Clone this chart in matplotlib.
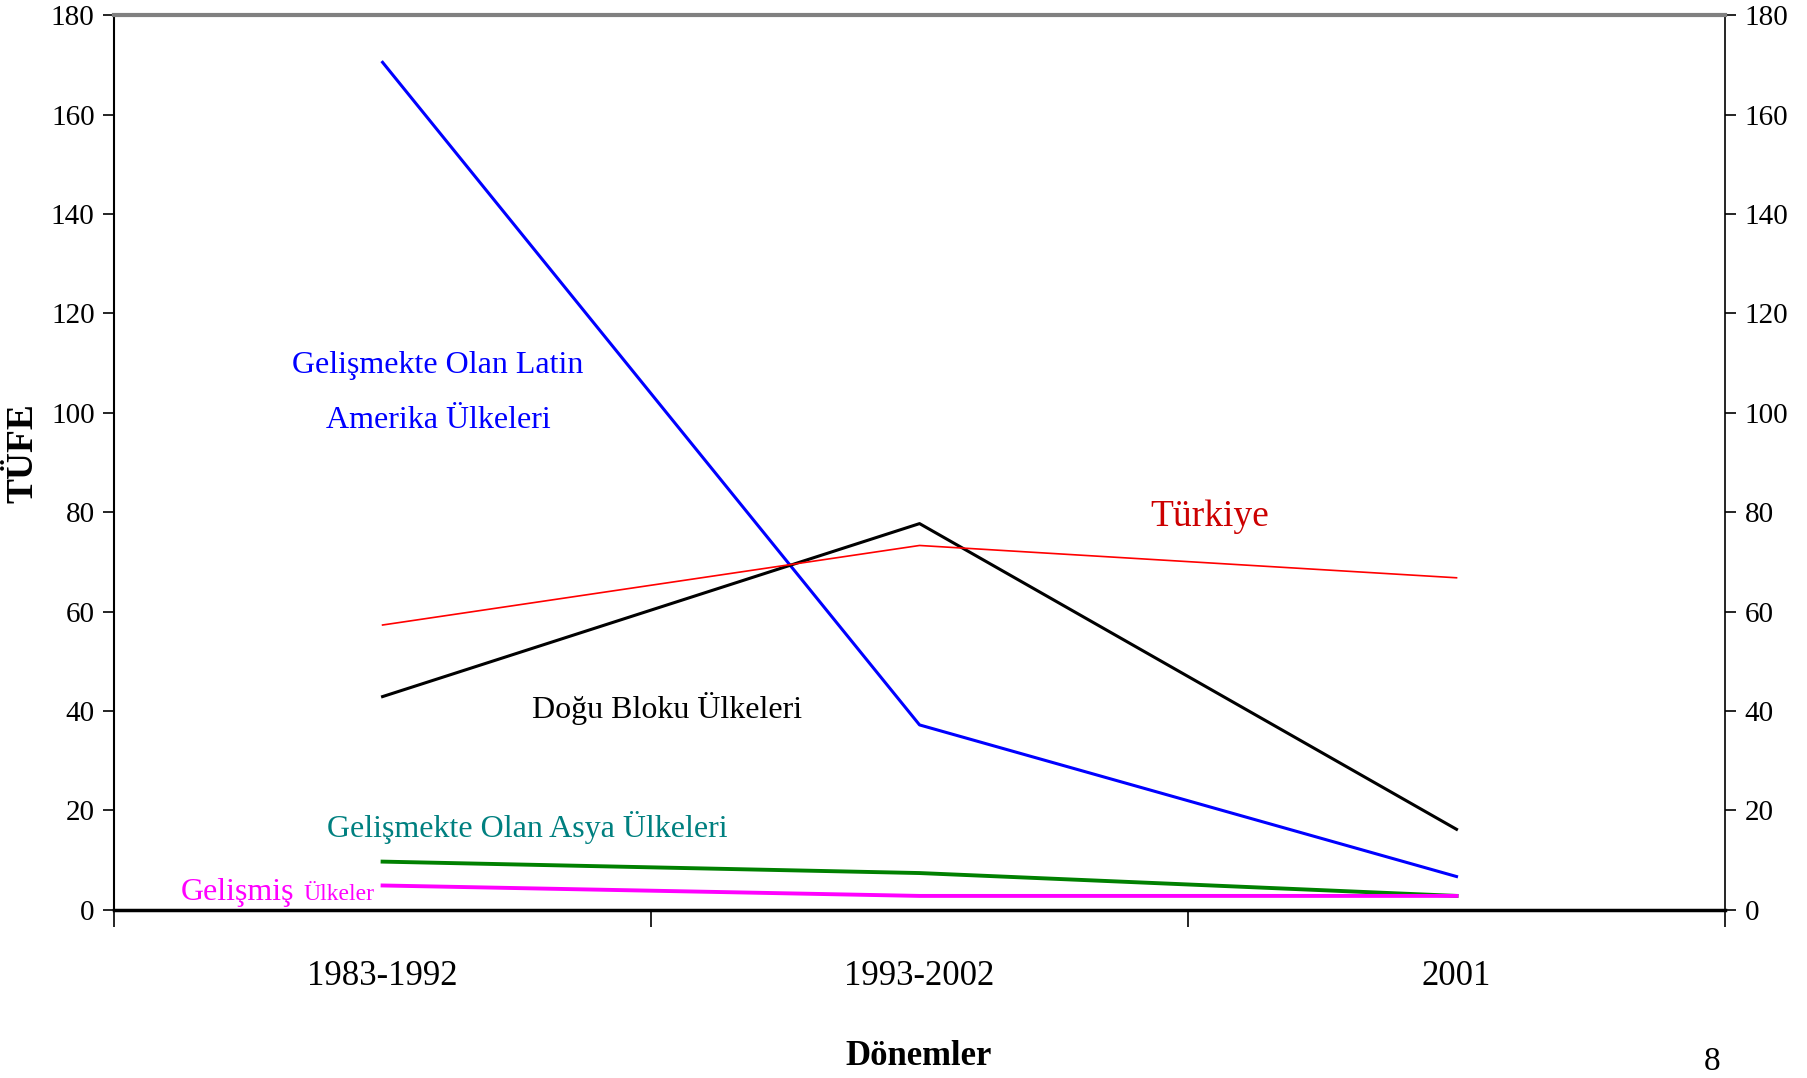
import matplotlib.pyplot as plt

donemler = ['1983-1992', '1993-2002', '2001']
latin_amerika = [170.5, 37.2, 6.7]
dogu_bloku = [42.9, 77.7, 16.2]
turkiye = [57.3, 73.3, 66.8]
asya = [9.7, 7.4, 2.8]
gelismis = [4.9, 2.8, 2.8]

plt.rcParams['font.family'] = ['Liberation Serif', 'DejaVu Serif']

fig = plt.figure(figsize=(18.08, 10.78), dpi=100)
ax = fig.add_axes([0.0631, 0.156, 0.8910, 0.830])

x = range(len(donemler))
ax.plot(x, latin_amerika, color='#0000FF', lw=2.2)
ax.plot(x, dogu_bloku, color='black', lw=2.2)
ax.plot(x, turkiye, color='#FF0000', lw=1.2)
ax.plot(x, asya, color='#008000', lw=2.8)
ax.plot(x, gelismis, color='#FF00FF', lw=2.8)

ax.set_xlim(-0.5, 2.5)
ax.set_ylim(0, 180)
ax.set_yticks(range(0, 181, 20))
ax.tick_params(axis='y', which='both', direction='out', length=8, width=1.2,
               left=True, right=True, labelleft=True, labelright=True,
               labelsize=21, pad=6)

# kategori etiketleri ve aradaki tik cizgileri
ax.set_xticks([-0.5, 0.5, 1.5, 2.5])
ax.set_xticklabels([])
ax.tick_params(axis='x', direction='out', length=12, width=1.2)
for i, d in enumerate(donemler):
    ax.text(i, -13.5, d, ha='center', va='center', fontsize=25)

ax.spines['top'].set_color('#808080')
ax.spines['top'].set_linewidth(3)
ax.spines['bottom'].set_linewidth(2.5)
ax.spines['left'].set_linewidth(1.5)
ax.spines['right'].set_linewidth(1.2)

ax.text(0.103, 104, 'Gelişmekte Olan Latin\nAmerika Ülkeleri', color='#0000FF',
        ha='center', va='center', fontsize=23, linespacing=2.2)
ax.text(1.54, 79, 'Türkiye', color='#CC0000', ha='center', va='center', fontsize=27)
ax.text(0.53, 40.5, 'Doğu Bloku Ülkeleri', color='black', ha='center', va='center',
        fontsize=23)
ax.text(0.27, 16.5, 'Gelişmekte Olan Asya Ülkeleri', color='#008080',
        ha='center', va='center', fontsize=23)
ax.text(-0.375, 3.5, 'Gelişmiş', color='#FF00FF', ha='left', va='center', fontsize=23)
ax.text(-0.148, 3.0, 'Ülkeler', color='#FF00FF', ha='left', va='center', fontsize=17)

fig.text(0.0127, 0.58, 'TÜFE', rotation=90, ha='center', va='center',
         fontsize=27, fontweight='bold')
fig.text(0.508, 0.02, 'Dönemler', ha='center', va='center',
         fontsize=25, fontweight='bold')
fig.text(0.947, 0.001, '8', ha='center', va='bottom', fontsize=24)

fig.savefig('out.png', dpi=100)
